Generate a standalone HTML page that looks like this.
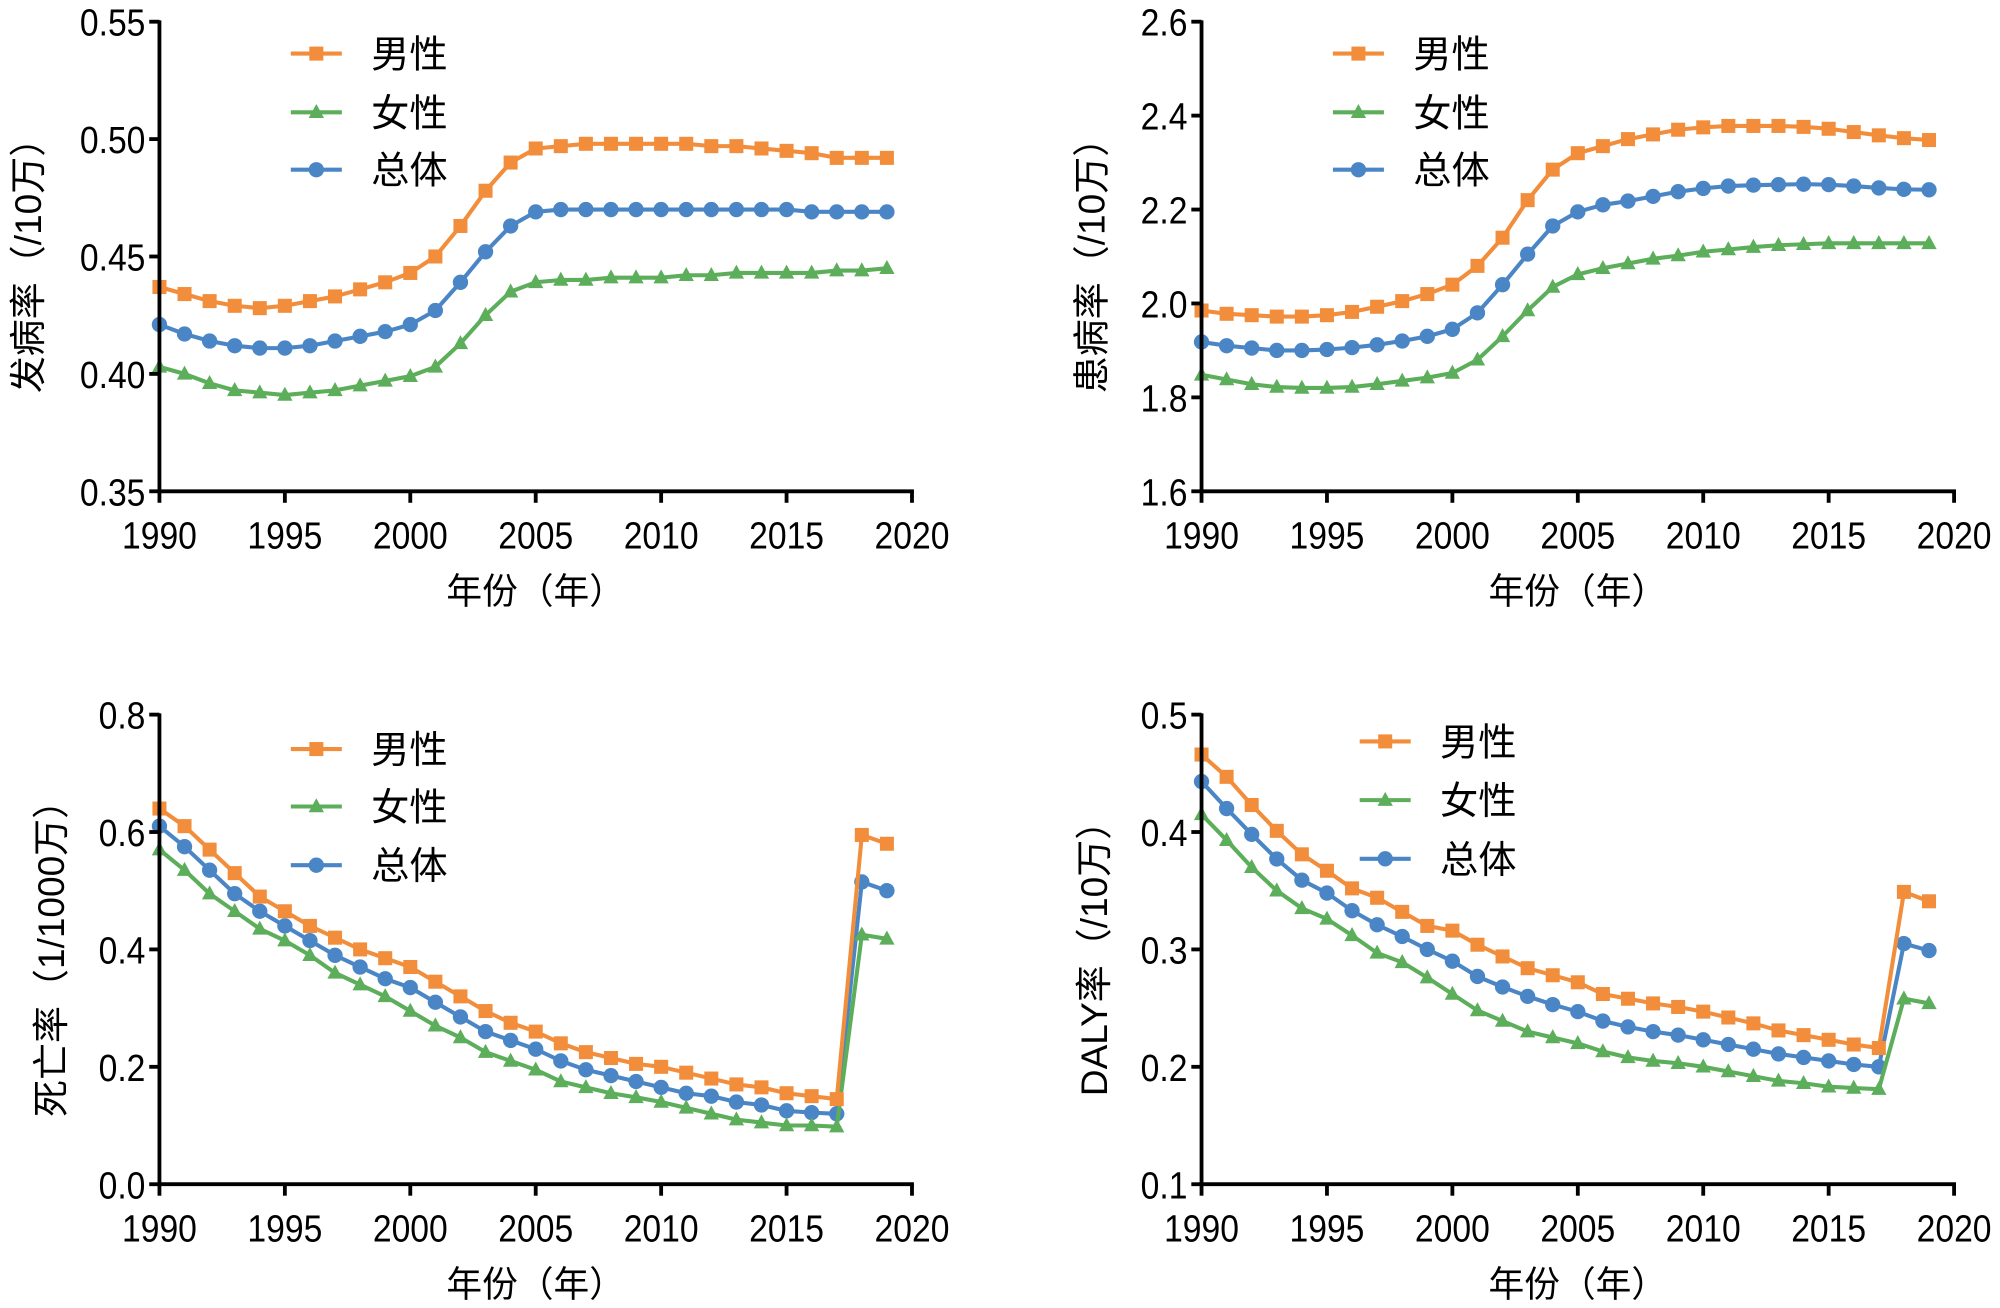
<!DOCTYPE html>
<html><head><meta charset="utf-8">
<style>
html,body{margin:0;padding:0;background:#fff;}
svg{display:block;}
text{font-family:"Liberation Sans","Noto Sans CJK SC",sans-serif;fill:#000;}
</style></head>
<body>
<svg id="s" width="2000" height="1308" viewBox="0 0 1568 1025" preserveAspectRatio="none" xmlns="http://www.w3.org/2000/svg"></svg>
<script>
const NS="http://www.w3.org/2000/svg";
const svg=document.getElementById('s');
function el(t,a,txt){const e=document.createElementNS(NS,t);for(const k in a)e.setAttribute(k,a[k]);if(txt!==undefined)e.textContent=txt;svg.appendChild(e);return e;}
const C={m:"#f28e3b",f:"#5cae5a",t:"#4a86c6"};
const panels=[
{x0:125,yT:17,yB:385,min:.35,max:.55,ticks:[.35,.40,.45,.50,.55],dec:2,ylab:"发病率（/10万）",yl:22,leg:[42,88,133],lx:228,
 m:[.437,.434,.431,.429,.428,.429,.431,.433,.436,.439,.443,.450,.463,.478,.490,.496,.497,.498,.498,.498,.498,.498,.497,.497,.496,.495,.494,.492,.492,.492],
 f:[.403,.400,.396,.393,.392,.391,.392,.393,.395,.397,.399,.403,.413,.425,.435,.439,.440,.440,.441,.441,.441,.442,.442,.443,.443,.443,.443,.444,.444,.445],
 t:[.421,.417,.414,.412,.411,.411,.412,.414,.416,.418,.421,.427,.439,.452,.463,.469,.470,.470,.470,.470,.470,.470,.470,.470,.470,.470,.469,.469,.469,.469]},
{x0:942,yT:17,yB:385,min:1.6,max:2.6,ticks:[1.6,1.8,2.0,2.2,2.4,2.6],dec:1,ylab:"患病率（/10万）",yl:856,leg:[42,88,133],lx:1045,
 m:[1.985,1.978,1.975,1.972,1.972,1.975,1.982,1.993,2.005,2.02,2.04,2.08,2.14,2.22,2.285,2.32,2.335,2.35,2.36,2.37,2.375,2.378,2.378,2.378,2.376,2.372,2.365,2.358,2.352,2.348],
 f:[1.848,1.838,1.828,1.822,1.82,1.82,1.822,1.828,1.835,1.842,1.852,1.88,1.93,1.985,2.035,2.062,2.075,2.085,2.095,2.102,2.11,2.115,2.12,2.124,2.126,2.128,2.128,2.128,2.128,2.128],
 t:[1.918,1.91,1.905,1.9,1.9,1.902,1.906,1.912,1.92,1.93,1.945,1.98,2.04,2.105,2.165,2.195,2.21,2.218,2.228,2.238,2.245,2.25,2.252,2.253,2.254,2.253,2.25,2.246,2.243,2.242]},
{x0:125,yT:560,yB:928,min:0,max:.8,ticks:[0,.2,.4,.6,.8],dec:1,ylab:"死亡率（1/1000万）",yl:40,leg:[587,632,678],lx:228,
 m:[.64,.61,.57,.53,.49,.465,.44,.42,.40,.385,.37,.345,.32,.295,.275,.26,.24,.225,.215,.205,.2,.19,.18,.17,.165,.155,.15,.145,.595,.58],
 f:[.57,.535,.495,.465,.435,.415,.39,.36,.34,.32,.295,.27,.25,.225,.21,.195,.175,.165,.155,.148,.14,.13,.12,.11,.105,.1,.1,.098,.425,.418],
 t:[.61,.575,.535,.495,.465,.44,.415,.39,.37,.35,.335,.31,.285,.26,.245,.23,.21,.195,.185,.175,.165,.155,.15,.14,.135,.125,.122,.12,.515,.5]},
{x0:942,yT:560,yB:928,min:.1,max:.5,ticks:[.1,.2,.3,.4,.5],dec:1,ylab:"DALY率（/10万）",yl:858,leg:[581,627,673],lx:1066,
 m:[.466,.447,.423,.401,.381,.367,.352,.344,.332,.32,.316,.304,.294,.284,.278,.272,.262,.258,.254,.251,.247,.242,.237,.231,.227,.223,.219,.216,.349,.341],
 f:[.415,.393,.37,.35,.335,.326,.312,.297,.289,.276,.262,.248,.239,.23,.225,.22,.213,.208,.205,.203,.2,.196,.192,.188,.186,.183,.182,.181,.258,.254],
 t:[.443,.42,.398,.377,.359,.348,.333,.321,.311,.3,.29,.277,.268,.26,.253,.247,.239,.234,.23,.227,.223,.219,.215,.211,.208,.205,.202,.2,.305,.299]}
];
function marker(k,x,y){
 if(k==='m')el('rect',{x:x-5.5,y:y-5.5,width:11,height:11,fill:C.m});
 else if(k==='f')el('polygon',{points:`${x},${y-6.5} ${x+6},${y+4.5} ${x-6},${y+4.5}`,fill:C.f});
 else el('circle',{cx:x,cy:y,r:6,fill:C.t});
}
function ntext(x,y,anchor,s){ // condensed numeric label
 el('text',{x:0,y:0,'font-size':30,'text-anchor':anchor,transform:`translate(${x} ${y}) scale(0.88 1)`},s);
}
panels.forEach(p=>{
 const W=590, X=yr=>p.x0+(yr-1990)*W/30, Y=v=>p.yB-(v-p.min)/(p.max-p.min)*(p.yB-p.yT);
 ['t','f','m'].forEach(k=>{
  const pts=p[k].map((v,i)=>X(1990+i).toFixed(1)+','+Y(v).toFixed(1)).join(' ');
  el('polyline',{points:pts,fill:'none',stroke:C[k],'stroke-width':3.2,'stroke-linejoin':'round'});
  p[k].forEach((v,i)=>marker(k,X(1990+i),Y(v)));
 });
 el('line',{x1:p.x0,y1:p.yT-1,x2:p.x0,y2:p.yB,stroke:'#000','stroke-width':3});
 el('line',{x1:p.x0-1.5,y1:p.yB,x2:p.x0+W+1.5,y2:p.yB,stroke:'#000','stroke-width':3});
 p.ticks.forEach(v=>{const y=Y(v);
  el('line',{x1:p.x0-8,y1:y,x2:p.x0,y2:y,stroke:'#000','stroke-width':3});
  ntext(p.x0-11,y+11,'end',v.toFixed(p.dec));});
 for(let yr=1990;yr<=2020;yr+=5){const x=X(yr);
  el('line',{x1:x,y1:p.yB,x2:x,y2:p.yB+9,stroke:'#000','stroke-width':3});
  ntext(x,p.yB+45,'middle',String(yr));}
 el('text',{x:p.x0+W/2,y:p.yB+88,'font-size':28,'text-anchor':'middle'},'年份（年）');
 const cy=(p.yT+p.yB)/2, lx=p.yl+10;
 el('text',{x:lx,y:cy,'font-size':29,'text-anchor':'middle',transform:`rotate(-90 ${lx} ${cy})`},p.ylab);
 const names={m:'男性',f:'女性',t:'总体'};
 ['m','f','t'].forEach((k,i)=>{const y=p.leg[i];
  el('line',{x1:p.lx,y1:y,x2:p.lx+40,y2:y,stroke:C[k],'stroke-width':3.2});
  marker(k,p.lx+20,y);
  el('text',{x:p.lx+63,y:y+11,'font-size':30},names[k]);});
});
</script>
</body></html>
